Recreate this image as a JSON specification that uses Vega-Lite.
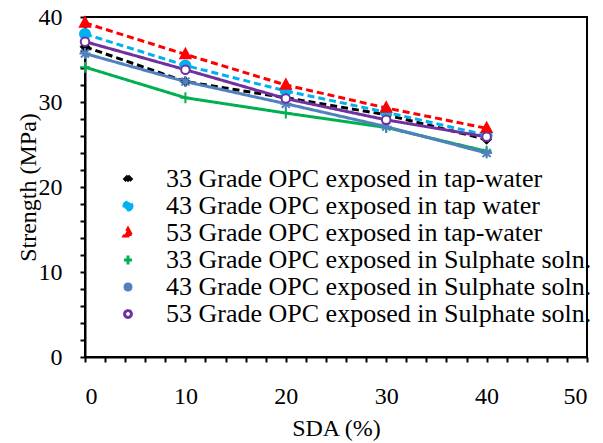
{
  "$schema": "https://vega.github.io/schema/vega-lite/v6.json",
  "width": 502,
  "height": 340,
  "autosize": {"type": "none"},
  "padding": {"left": 85, "top": 17, "right": 16, "bottom": 86},
  "background": "white",
  "config": {
    "view": {"stroke": "black", "strokeWidth": 2},
    "font": "Liberation Serif, Times New Roman, serif",
    "axis": {
      "grid": false,
      "domainColor": "black",
      "domainWidth": 2,
      "tickColor": "black",
      "tickWidth": 2,
      "tickSize": 5,
      "labelFont": "Liberation Serif, Times New Roman, serif",
      "labelFontSize": 24,
      "labelColor": "black",
      "titleFont": "Liberation Serif, Times New Roman, serif",
      "titleFontSize": 24,
      "titleFontWeight": "normal",
      "titleColor": "black"
    }
  },
  "data": {
    "values": [
      {"sda": 0, "strength": 36.5, "series": "33 Grade OPC exposed in tap-water"},
      {"sda": 10, "strength": 32.4, "series": "33 Grade OPC exposed in tap-water"},
      {"sda": 20, "strength": 30.5, "series": "33 Grade OPC exposed in tap-water"},
      {"sda": 30, "strength": 28.5, "series": "33 Grade OPC exposed in tap-water"},
      {"sda": 40, "strength": 25.6, "series": "33 Grade OPC exposed in tap-water"},
      {"sda": 0, "strength": 38.0, "series": "43 Grade OPC exposed in tap water"},
      {"sda": 10, "strength": 34.3, "series": "43 Grade OPC exposed in tap water"},
      {"sda": 20, "strength": 31.3, "series": "43 Grade OPC exposed in tap water"},
      {"sda": 30, "strength": 28.8, "series": "43 Grade OPC exposed in tap water"},
      {"sda": 40, "strength": 26.1, "series": "43 Grade OPC exposed in tap water"},
      {"sda": 0, "strength": 39.3, "series": "53 Grade OPC exposed in tap-water"},
      {"sda": 10, "strength": 35.6, "series": "53 Grade OPC exposed in tap-water"},
      {"sda": 20, "strength": 32.0, "series": "53 Grade OPC exposed in tap-water"},
      {"sda": 30, "strength": 29.3, "series": "53 Grade OPC exposed in tap-water"},
      {"sda": 40, "strength": 26.9, "series": "53 Grade OPC exposed in tap-water"},
      {"sda": 0, "strength": 34.1, "series": "33 Grade OPC exposed in Sulphate soln."},
      {"sda": 10, "strength": 30.5, "series": "33 Grade OPC exposed in Sulphate soln."},
      {"sda": 20, "strength": 28.7, "series": "33 Grade OPC exposed in Sulphate soln."},
      {"sda": 30, "strength": 27.0, "series": "33 Grade OPC exposed in Sulphate soln."},
      {"sda": 40, "strength": 24.2, "series": "33 Grade OPC exposed in Sulphate soln."},
      {"sda": 0, "strength": 35.7, "series": "43 Grade OPC exposed in Sulphate soln."},
      {"sda": 10, "strength": 32.4, "series": "43 Grade OPC exposed in Sulphate soln."},
      {"sda": 20, "strength": 29.8, "series": "43 Grade OPC exposed in Sulphate soln."},
      {"sda": 30, "strength": 27.1, "series": "43 Grade OPC exposed in Sulphate soln."},
      {"sda": 40, "strength": 24.0, "series": "43 Grade OPC exposed in Sulphate soln."},
      {"sda": 0, "strength": 37.1, "series": "53 Grade OPC exposed in Sulphate soln."},
      {"sda": 10, "strength": 33.8, "series": "53 Grade OPC exposed in Sulphate soln."},
      {"sda": 20, "strength": 30.4, "series": "53 Grade OPC exposed in Sulphate soln."},
      {"sda": 30, "strength": 27.9, "series": "53 Grade OPC exposed in Sulphate soln."},
      {"sda": 40, "strength": 25.9, "series": "53 Grade OPC exposed in Sulphate soln."}
    ]
  },
  "encoding": {
    "x": {
      "field": "sda",
      "type": "quantitative",
      "scale": {"domain": [0, 50], "nice": false},
      "axis": {
        "title": "SDA (%)",
        "values": [0, 2, 4, 6, 8, 10, 12, 14, 16, 18, 20, 22, 24, 26, 28, 30, 32, 34, 36, 38, 40, 42, 44, 46, 48, 50],
        "labelExpr": "datum.value % 10 === 0 ? datum.label : ''",
        "labelPadding": 22,
        "titlePadding": 8
      }
    },
    "y": {
      "field": "strength",
      "type": "quantitative",
      "scale": {"domain": [0, 40], "nice": false},
      "axis": {
        "title": "Strength (MPa)",
        "values": [0, 2, 4, 6, 8, 10, 12, 14, 16, 18, 20, 22, 24, 26, 28, 30, 32, 34, 36, 38, 40],
        "labelExpr": "datum.value % 10 === 0 ? datum.label : ''",
        "labelPadding": 18,
        "titlePadding": -2
      }
    }
  },
  "layer": [
    {
      "mark": {"type": "line", "strokeWidth": 3},
      "encoding": {
        "color": {
          "field": "series",
          "type": "nominal",
          "scale": {
            "domain": [
              "33 Grade OPC exposed in tap-water",
              "43 Grade OPC exposed in tap water",
              "53 Grade OPC exposed in tap-water",
              "33 Grade OPC exposed in Sulphate soln.",
              "43 Grade OPC exposed in Sulphate soln.",
              "53 Grade OPC exposed in Sulphate soln."
            ],
            "range": ["#000000", "#00B0F0", "#FF0000", "#00B050", "#4F81BD", "#7030A0"]
          },
          "legend": {
            "orient": "none",
            "legendX": 30,
            "legendY": 149,
            "title": null,
            "labelFont": "Liberation Serif, Times New Roman, serif",
            "labelFontSize": 26,
            "labelColor": "black",
            "labelLimit": 0,
            "labelOffset": 25,
            "rowPadding": 1,
            "symbolStrokeWidth": 3,
            "symbolSize": 64,
            "symbolOpacity": 1
          }
        },
        "strokeDash": {
          "field": "series",
          "type": "nominal",
          "legend": null,
          "scale": {
            "domain": [
              "33 Grade OPC exposed in tap-water",
              "43 Grade OPC exposed in tap water",
              "53 Grade OPC exposed in tap-water",
              "33 Grade OPC exposed in Sulphate soln.",
              "43 Grade OPC exposed in Sulphate soln.",
              "53 Grade OPC exposed in Sulphate soln."
            ],
            "range": [[7, 4], [7, 4], [7, 4], [1, 0], [1, 0], [1, 0]]
          }
        }
      }
    },
    {
      "mark": {"type": "point", "filled": false, "opacity": 1, "strokeWidth": 2, "size": 100},
      "encoding": {
        "color": {"field": "series", "type": "nominal", "legend": null},
        "fill": {
          "field": "series",
          "type": "nominal",
          "legend": null,
          "scale": {
            "domain": [
              "33 Grade OPC exposed in tap-water",
              "43 Grade OPC exposed in tap water",
              "53 Grade OPC exposed in tap-water",
              "33 Grade OPC exposed in Sulphate soln.",
              "43 Grade OPC exposed in Sulphate soln.",
              "53 Grade OPC exposed in Sulphate soln."
            ],
            "range": ["#000000", "#00B0F0", "#FF0000", "transparent", "transparent", "white"]
          }
        },
        "shape": {
          "field": "series",
          "type": "nominal",
          "legend": null,
          "scale": {
            "domain": [
              "33 Grade OPC exposed in tap-water",
              "43 Grade OPC exposed in tap water",
              "53 Grade OPC exposed in tap-water",
              "33 Grade OPC exposed in Sulphate soln.",
              "43 Grade OPC exposed in Sulphate soln.",
              "53 Grade OPC exposed in Sulphate soln."
            ],
            "range": [
              "M0,-0.8L0.8,0L0,0.8L-0.8,0Z",
              "M1,0A1,1,0,1,1,-1,0A1,1,0,1,1,1,0Z",
              "M0,-1.1L1,0.75L-1,0.75Z",
              "M-1,0H1M0,-1.1V1.1",
              "M-1.1,0H1.1M0,-1.1V1.1M-0.8,-0.8L0.8,0.8M-0.8,0.8L0.8,-0.8",
              "M0.85,0A0.85,0.85,0,1,1,-0.85,0A0.85,0.85,0,1,1,0.85,0Z"
            ]
          }
        }
      }
    }
  ]
}
